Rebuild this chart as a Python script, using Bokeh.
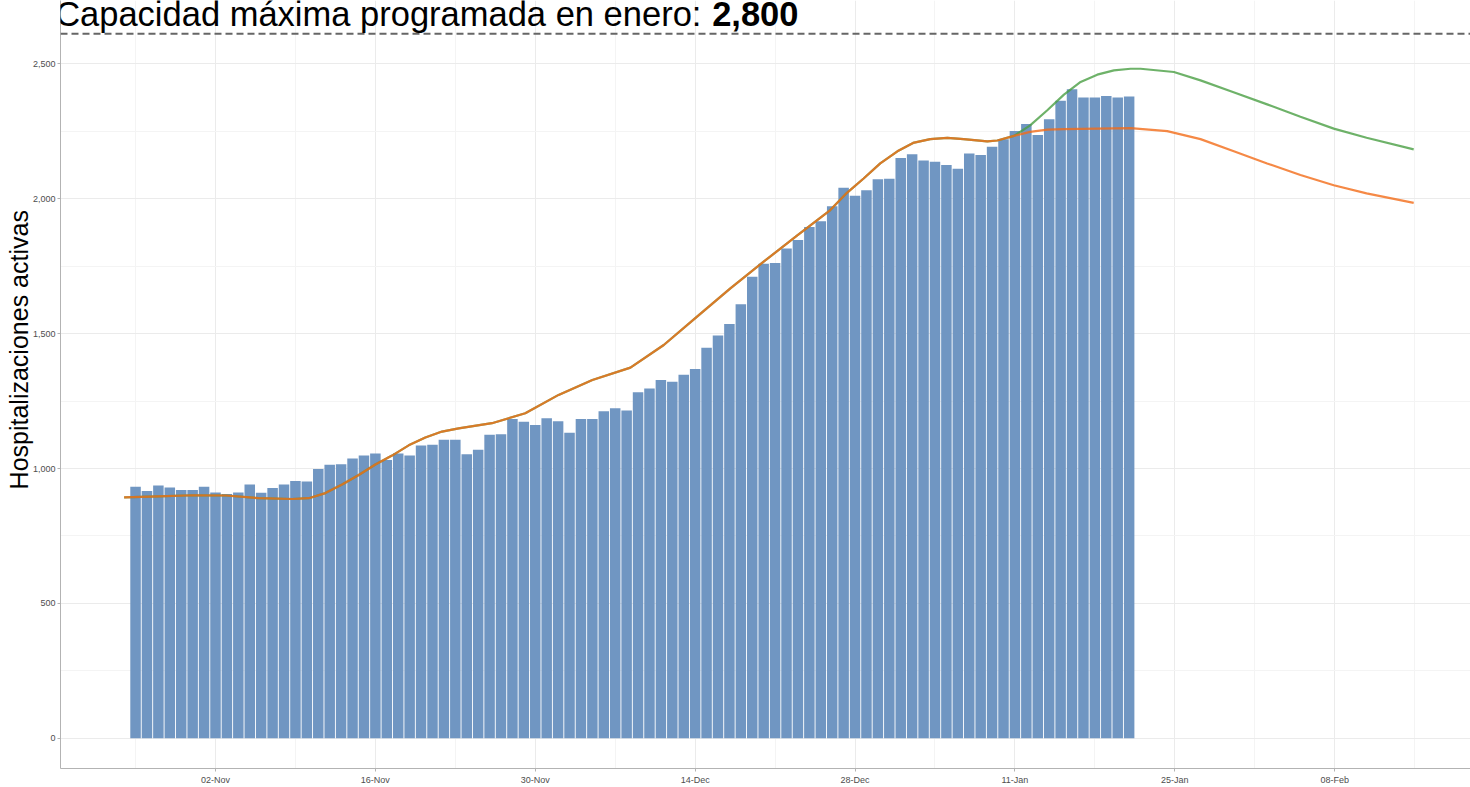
from datetime import datetime, timedelta
import pandas as pd
from bokeh.plotting import figure
from bokeh.models import (Range1d, FixedTicker, DatetimeTickFormatter, NumeralTickFormatter,
                          Label, Span, ColumnDataSource)
from bokeh.embed import file_html
from bokeh.resources import INLINE

# ---------------- data ----------------
first_day = "2020-10-26"
hospitalizaciones = [932, 917, 937, 930, 920, 920, 932, 911, 906, 911,
                     941, 910, 928, 941, 954, 952, 998, 1014, 1016, 1037,
                     1048, 1056, 1032, 1056, 1048, 1085, 1088, 1107, 1107, 1053,
                     1070, 1125, 1127, 1184, 1173, 1161, 1186, 1175, 1133, 1184,
                     1184, 1212, 1223, 1215, 1283, 1297, 1328, 1322, 1348, 1369,
                     1448, 1493, 1536, 1609, 1711, 1759, 1762, 1816, 1847, 1895,
                     1917, 1972, 2041, 2011, 2032, 2072, 2074, 2151, 2165, 2142,
                     2137, 2125, 2111, 2168, 2162, 2193, 2221, 2251, 2277, 2236,
                     2295, 2363, 2406, 2375, 2375, 2381, 2375, 2379]

# fitted curve (shared by both scenarios up to 11-Jan)
fit_dates = ["2020-10-25 00:00", "2020-10-28 00:00", "2020-10-31 00:00", "2020-11-02 22:00",
             "2020-11-05 19:00", "2020-11-08 17:00", "2020-11-10 04:00", "2020-11-11 15:00",
             "2020-11-13 03:00", "2020-11-14 13:00", "2020-11-16 00:00", "2020-11-17 11:00",
             "2020-11-18 22:00", "2020-11-20 09:00", "2020-11-21 20:00", "2020-11-23 07:00",
             "2020-11-26 05:00", "2020-11-29 03:00", "2020-12-02 01:00", "2020-12-05 00:00",
             "2020-12-08 08:00", "2020-12-11 06:00", "2020-12-14 04:00", "2020-12-17 02:00",
             "2020-12-20 00:00", "2020-12-22 22:00", "2020-12-25 20:00", "2020-12-27 07:00",
             "2020-12-28 18:00", "2020-12-30 05:00", "2020-12-31 17:00", "2021-01-02 02:00",
             "2021-01-03 14:00", "2021-01-05 02:00", "2021-01-06 12:00", "2021-01-08 14:00",
             "2021-01-09 11:00", "2021-01-10 22:00"]
fit_values = [893, 897, 901, 900,
              890, 887, 890, 909,
              942, 976, 1015, 1048,
              1086, 1115, 1137, 1149,
              1168, 1205, 1273, 1328,
              1374, 1458, 1563, 1668,
              1767, 1863, 1958, 2022,
              2075, 2131, 2176, 2207,
              2221, 2226, 2221, 2213,
              2216, 2233]

# scenario projections (green: higher, orange: lower)
green_dates = ["2021-01-12 08:00", "2021-01-13 20:00", "2021-01-15 07:00", "2021-01-16 18:00",
               "2021-01-18 05:00", "2021-01-19 16:00", "2021-01-21 03:00", "2021-01-22 00:00",
               "2021-01-24 22:00", "2021-01-27 06:00", "2021-01-30 02:00", "2021-02-02 02:00",
               "2021-02-05 00:00", "2021-02-07 22:00", "2021-02-10 19:00", "2021-02-14 22:00"]
green_values = [2272, 2328, 2386, 2433,
                2460, 2476, 2482, 2482,
                2470, 2439, 2396, 2350,
                2304, 2260, 2226, 2183]

orange_dates = ["2021-01-12 08:00", "2021-01-13 20:00", "2021-01-15 07:00", "2021-01-18 05:00",
                "2021-01-21 03:00", "2021-01-24 08:00", "2021-01-27 06:00", "2021-01-30 04:00",
                "2021-02-02 02:00", "2021-02-05 00:00", "2021-02-07 22:00", "2021-02-10 19:00",
                "2021-02-14 22:00"]
orange_values = [2248, 2256, 2258, 2260,
                 2262, 2251, 2221, 2176,
                 2131, 2088, 2050, 2020,
                 1985]

x_major_ticks = ["2020-11-02", "2020-11-16", "2020-11-30", "2020-12-14",
                 "2020-12-28", "2021-01-11", "2021-01-25", "2021-02-08"]
x_minor_ticks = ["2020-10-26", "2020-11-09", "2020-11-23", "2020-12-07",
                 "2020-12-21", "2021-01-04", "2021-01-18", "2021-02-01", "2021-02-15"]
y_major_ticks = [0, 500, 1000, 1500, 2000, 2500]
y_minor_ticks = [-250, 250, 750, 1250, 1750, 2250, 2750]

title_text = "Capacidad máxima programada en enero: "
title_bold = "2,800"
y_title = "Hospitalizaciones activas"

# ---------------- build ----------------
def ms(d):
    return pd.Timestamp(d).value // 10**6

bar_dates = pd.date_range(first_day, periods=len(hospitalizaciones), freq="D")
bars = ColumnDataSource(dict(date=bar_dates, hosp=hospitalizaciones))

green_x = pd.to_datetime(fit_dates + green_dates)
green_y = fit_values + green_values
orange_x = pd.to_datetime(fit_dates + orange_dates)
orange_y = fit_values + orange_values

day = timedelta(days=1)
ref = datetime(2020, 10, 26)
x_start = ref - 6.571 * day
x_end = ref + 116.89 * day

FONT = "Liberation Sans"

p = figure(width=1470, height=787, x_axis_type="datetime",
           x_range=Range1d(x_start, x_end), y_range=Range1d(-112, 2735),
           output_backend="svg", toolbar_location=None,
           min_border_left=60, min_border_right=0, min_border_top=0, min_border_bottom=0)
p.outline_line_color = None
p.background_fill_color = "white"

p.vbar(x="date", top="hosp", width=0.92 * 86400000, source=bars,
       fill_color="#7096c2", line_color=None)

p.line(green_x, green_y, line_color="#4a9f44", line_alpha=0.8, line_width=2.2)
p.line(orange_x, orange_y, line_color="#f26c18", line_alpha=0.8, line_width=2.2)

# dashed capacity line and title
p.add_layout(Span(location=2612, dimension="width",
                  line_color="#666666", line_width=2, line_dash="7 4"))
tx = ref - 7.04 * day
p.add_layout(Label(x=tx, y=2686, text=title_text, text_font=FONT,
                   text_font_size="34.5px", text_color="black",
                   text_baseline="alphabetic", text_align="left"))
p.add_layout(Label(x=tx, y=2686, x_offset=657, text=title_bold, text_font=FONT,
                   text_font_size="34.5px", text_font_style="bold", text_color="black",
                   text_baseline="alphabetic", text_align="left"))

# axes
p.xaxis.ticker = FixedTicker(ticks=[ms(d) for d in x_major_ticks],
                             minor_ticks=[ms(d) for d in x_minor_ticks])
fmt = "%d-%b"
p.xaxis.formatter = DatetimeTickFormatter(days=fmt, months=fmt, years=fmt, hours=fmt,
                                          minutes=fmt, seconds=fmt, milliseconds=fmt,
                                          microseconds=fmt, hourmin=fmt, minsec=fmt)
p.yaxis.ticker = FixedTicker(ticks=y_major_ticks, minor_ticks=y_minor_ticks)
p.yaxis.formatter = NumeralTickFormatter(format="0,0")

for ax in (p.xaxis, p.yaxis):
    ax.axis_line_color = "#b3b3b3"
    ax.axis_line_width = 1
    ax.major_tick_line_color = "#b3b3b3"
    ax.major_tick_in = 0
    ax.major_tick_out = 3
    ax.minor_tick_line_color = None
    ax.major_label_text_font = FONT
    ax.major_label_text_font_size = "9px"
    ax.major_label_text_color = "#4d4d4d"
    ax.major_label_standoff = 2

p.yaxis.major_label_standoff = 1
nbsp = "\u00a0"
p.yaxis.axis_label = nbsp * 10 + y_title
p.yaxis.axis_label_text_font = FONT
p.yaxis.axis_label_text_font_size = "25px"
p.yaxis.axis_label_text_font_style = "normal"
p.yaxis.axis_label_text_color = "black"
p.yaxis.axis_label_standoff = -3

p.xgrid.grid_line_color = "#ebebeb"
p.ygrid.grid_line_color = "#ebebeb"
p.xgrid.minor_grid_line_color = "#f4f4f4"
p.ygrid.minor_grid_line_color = "#f4f4f4"
p.xgrid.grid_line_width = 1
p.ygrid.grid_line_width = 1

open("out.html", "w").write(file_html(p, INLINE))
